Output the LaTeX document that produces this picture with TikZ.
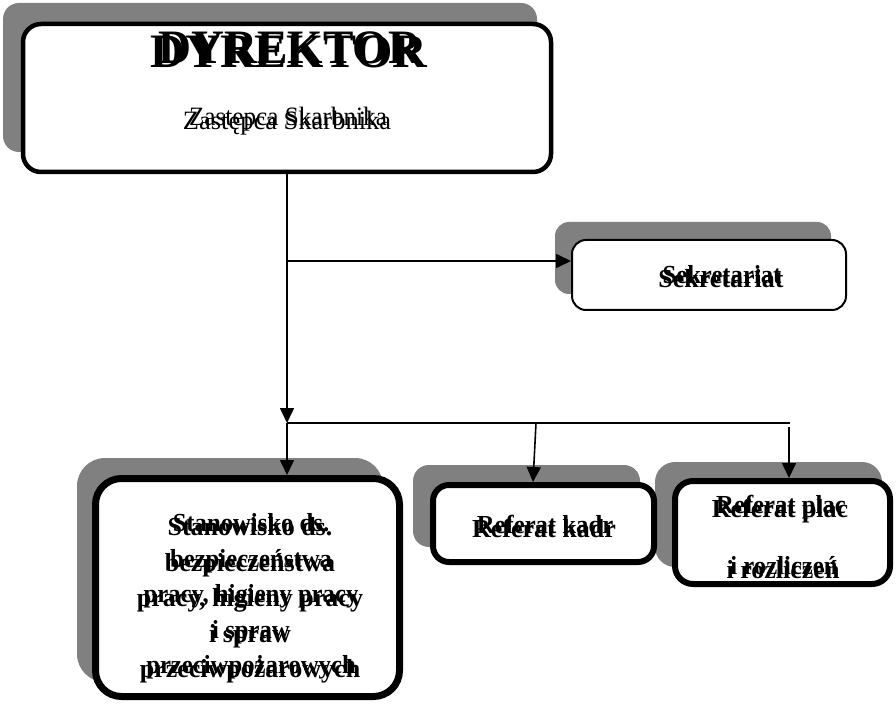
\documentclass[tikz,border=0pt]{standalone}
\usepackage{fontspec}
\setmainfont{Liberation Serif}
\usetikzlibrary{arrows.meta}
\definecolor{shadowgray}{HTML}{808080}
\tikzset{
  shadowfill/.style={fill=shadowgray, draw=none},
  box/.style={draw=black, fill=white, inner sep=0pt, outer sep=0pt},
  conn/.style={line width=1.6pt, -{Triangle[width=14pt,length=15pt]}},
  plainline/.style={line width=1.6pt},
  txt/.style={anchor=base, inner sep=0pt, text=black},
  bigfont/.style={font=\fontsize{48}{52}\selectfont\bfseries},
  subfont/.style={font=\fontsize{26.5}{30}\selectfont},
  boldfont/.style={font=\fontsize{26}{30}\selectfont\bfseries}
}
\newcommand\dbltext[6]{%
  \node[txt,#4] (#1a) at (#2,#3) {#5};
  \node[txt,#4] (#1b) at (#2+1,#3-4) {\scalebox{0.95}[1]{#6}};
}
\begin{document}
\begin{tikzpicture}[x=1pt,y=-1pt]
\useasboundingbox (0,0) rectangle (896,708);

% shadows
\fill[shadowfill, rounded corners=16] (3,3) rectangle (537,152);
\fill[shadowfill, rounded corners=14] (555,222) rectangle (831,294);
\fill[shadowfill, rounded corners=28] (77,458) rectangle (383,682);
\fill[shadowfill, rounded corners=16] (413,465) rectangle (640,547);
\fill[shadowfill, rounded corners=20] (655,462) rectangle (882,567);

% boxes
\node[box, line width=4.5pt, rounded corners=18, minimum width=528pt, minimum height=148pt] (dir) at (287,98) {};
\node[box, line width=2pt, rounded corners=14, minimum width=274pt, minimum height=70pt] (sek) at (709,275) {};
\node[box, line width=7pt, rounded corners=26, minimum width=304pt, minimum height=218pt] (stan) at (247.5,587.5) {};
\node[box, line width=6pt, rounded corners=16, minimum width=221pt, minimum height=77pt] (kadr) at (543.5,523.5) {};
\node[box, line width=6pt, rounded corners=18, minimum width=215pt, minimum height=103pt] (plac) at (782.5,532.5) {};

% connectors
\coordinate (j1) at (287,423);
\coordinate (jb) at (287,261);
\coordinate (j2) at (536,423);
\coordinate (k2) at (533,482);
\coordinate (j3) at (790,423);
\coordinate (j4) at (789,427);
\draw[conn] (dir.south) -- (j1);
\draw[conn, shorten >=1pt] (jb) -- (jb -| sek.west);
\draw[conn, shorten >=3.5pt] (j1) -- (j1 |- stan.north);
\draw[plainline] (j1) -- (j3);
\draw[conn] (j2) -- (k2);
\draw[conn, shorten >=3pt] (j4) -- (j4 |- plac.north);

% texts (printed doubled in the reference)
\dbltext{tdir}{289}{68}{bigfont}{DYREKTOR}{DYREKTOR}
\dbltext{tzs}{287}{130}{subfont}{Zastępca Skarbnika}{Zastepca Skarbnika}
\dbltext{tsek}{721}{288}{boldfont}{Sekretariat}{Sekretariat}
\dbltext{tst1}{250}{535}{boldfont}{Stanowisko ds.}{Stanowisko ds.}
\dbltext{tst2}{250}{571}{boldfont}{bezpieczeństwa}{bezpieczeństwa}
\dbltext{tst3}{250}{606}{boldfont}{pracy, higieny pracy}{pracy, higieny pracy}
\dbltext{tst4}{250}{642}{boldfont}{i spraw}{i spraw}
\dbltext{tst5}{250}{677}{boldfont}{przeciwpożarowych}{przeciwpożarowych}
\dbltext{tkadr}{544}{537}{boldfont}{Referat kadr}{Referat kadr}
\dbltext{tpl1}{780}{517}{boldfont}{Referat plac}{Referat plac}
\dbltext{tpl2}{783}{578}{boldfont}{i rozliczeń}{i rozliczeń}
\end{tikzpicture}
\end{document}
